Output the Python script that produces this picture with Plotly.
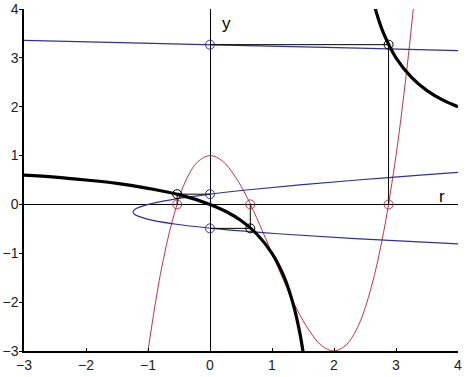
import plotly.graph_objects as go

# Red curve (cubic in r) sample points
red_r = [-1.0, -0.8, -0.6, -0.4, -0.2, 0.0, 0.2, 0.4, 0.6, 0.8, 1.0, 1.2, 1.4, 1.6, 1.8, 2.0,
         2.2, 2.4, 2.6, 2.8, 3.0, 3.1, 3.2, 3.3]
red_y = [-3.0, -1.43, -0.30, 0.46, 0.87, 1.0, 0.89, 0.58, 0.14, -0.41, -1.0, -1.59, -2.14, -2.58,
         -2.89, -3.0, -2.87, -2.46, -1.70, -0.57, 1.0, 1.97, 3.05, 4.27]

# Black thick curve, left and right branches
blk_r1 = [-3.0, -2.5, -2.0, -1.5, -1.0, -0.5, 0.0, 0.25, 0.5, 0.75, 1.0, 1.2, 1.35, 1.45, 1.52]
blk_y1 = [0.60, 0.56, 0.50, 0.43, 0.33, 0.20, 0.0, -0.14, -0.33, -0.60, -1.0, -1.5, -2.08, -2.64, -3.17]
blk_r2 = [2.64, 2.7, 2.8, 3.0, 3.25, 3.5, 3.75, 4.0]
blk_y2 = [4.13, 3.86, 3.50, 3.0, 2.60, 2.33, 2.14, 2.0]

# Blue curve (r as a function of y): lower loop and top branch
blu_y1 = [-0.81, -0.7, -0.6, -0.5, -0.4, -0.3, -0.2, -0.15, -0.1, 0.0, 0.1, 0.2, 0.3, 0.4, 0.5, 0.6, 0.66]
blu_r1 = [4.07, 2.34, 1.09, 0.13, -0.57, -1.01, -1.22, -1.24, -1.21, -1.0, -0.61, -0.06, 0.63, 1.45,
          2.38, 3.39, 4.04]
blu_y2 = [3.14, 3.2, 3.25, 3.3, 3.36]
blu_r2 = [4.3, 2.4, 0.6, -1.1, -3.1]

# Intersection points
roots_r = [-0.53, 0.65, 2.88]
roots_y = [0.21, -0.49, 3.27]

BLUE = "#30309a"
RED = "#c03445"

fig = go.Figure()
fig.add_trace(go.Scatter(x=red_r, y=red_y, mode="lines", line=dict(color=RED, width=1, shape="spline"),
                         showlegend=False, hoverinfo="skip"))
fig.add_trace(go.Scatter(x=blu_r1, y=blu_y1, mode="lines", line=dict(color=BLUE, width=1.2, shape="spline"),
                         showlegend=False, hoverinfo="skip"))
fig.add_trace(go.Scatter(x=blu_r2, y=blu_y2, mode="lines", line=dict(color=BLUE, width=1.2, shape="spline"),
                         showlegend=False, hoverinfo="skip"))

# guide lines from (0, y) to (r, y) to (r, 0)
for r, y in zip(roots_r, roots_y):
    fig.add_trace(go.Scatter(x=[0, r, r], y=[y, y, 0], mode="lines", line=dict(color="black", width=1),
                             showlegend=False, hoverinfo="skip"))

fig.add_trace(go.Scatter(x=blk_r1, y=blk_y1, mode="lines", line=dict(color="black", width=3.2, shape="spline"),
                         showlegend=False, hoverinfo="skip"))
fig.add_trace(go.Scatter(x=blk_r2, y=blk_y2, mode="lines", line=dict(color="black", width=3.2, shape="spline"),
                         showlegend=False, hoverinfo="skip"))

mk = dict(symbol="circle-open", size=9, line=dict(width=1))
fig.add_trace(go.Scatter(x=roots_r, y=[0, 0, 0], mode="markers", marker=dict(color=RED, **mk),
                         showlegend=False, hoverinfo="skip"))
fig.add_trace(go.Scatter(x=[0, 0, 0], y=roots_y, mode="markers", marker=dict(color=BLUE, **mk),
                         showlegend=False, hoverinfo="skip"))
fig.add_trace(go.Scatter(x=roots_r, y=roots_y, mode="markers", marker=dict(color="black", **mk),
                         showlegend=False, hoverinfo="skip"))

tickfont = dict(family="Liberation Sans, Arial, sans-serif", size=14, color="#222")
fig.update_layout(
    width=468, height=377,
    margin=dict(l=24, r=10, t=9, b=26, autoexpand=False),
    paper_bgcolor="white", plot_bgcolor="white",
    xaxis=dict(range=[-3, 4], showgrid=False, zeroline=True, zerolinecolor="black", zerolinewidth=1,
               showline=True, linecolor="black", linewidth=1.5, ticks="inside", ticklen=3,
               tickcolor="black", dtick=1, tickfont=tickfont, fixedrange=True, automargin=False),
    yaxis=dict(range=[-3, 4], showgrid=False, zeroline=True, zerolinecolor="black", zerolinewidth=1,
               showline=True, linecolor="black", linewidth=1.5, ticks="outside", ticklen=3,
               tickcolor="black", dtick=1, tickfont=tickfont, fixedrange=True, automargin=False,
               ticklabelstandoff=-2),
    annotations=[
        dict(x=0.27, y=3.7, text="y", showarrow=False, font=dict(family="Liberation Sans, Arial", size=17, color="black")),
        dict(x=3.74, y=0.16, text="r", showarrow=False, font=dict(family="Liberation Sans, Arial", size=17, color="black")),
    ],
)

fig.write_html("out.html")
